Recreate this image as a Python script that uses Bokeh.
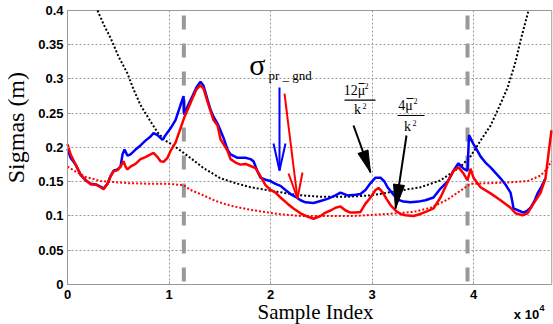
import math
from bokeh.plotting import figure
from bokeh.models import Range1d, FixedTicker
from bokeh.core.properties import value
from bokeh.embed import file_html
from bokeh.resources import INLINE

# ---------------- data ----------------
blue_x = [0, 300, 800, 1300, 1800, 2300, 2800, 3250, 3550, 3940, 4240, 4530, 4930, 5220, 5420, 5620,
          5910, 6210, 6700, 7190, 7680, 8180, 8470, 8870, 9360, 9650, 10150, 10640, 11130, 11430, 11500,
          11920, 12310, 12710, 13100, 13400, 13790, 14090, 14380, 14780, 15070, 15370, 15760, 16060,
          16750, 17530, 18030, 18320, 18720, 19010, 19500, 20000, 20490, 20980, 21470, 21970, 22460,
          22950, 23440, 24230, 24920, 25610, 26400, 26890, 27580, 28370, 28860, 29350, 29850, 30340,
          30830, 31230, 31520, 32010, 32500, 33100, 33790, 34570, 35260, 36050, 36740, 37430, 38020,
          38510, 39010, 39400, 39550, 39990, 40380, 40680, 41170, 41670, 42160, 42650, 43140, 43640,
          43830, 43930, 44420, 44920, 45310, 45610, 46000, 46300, 46690, 47080]
blue_y = [0.198, 0.185, 0.175, 0.160, 0.152, 0.147, 0.146, 0.143, 0.140, 0.147, 0.158, 0.166, 0.168, 0.172, 0.190, 0.197,
          0.188, 0.190, 0.197, 0.203, 0.210, 0.216, 0.221, 0.218, 0.211, 0.218, 0.228, 0.240, 0.262, 0.275, 0.248,
          0.263, 0.275, 0.288, 0.296, 0.290, 0.270, 0.255, 0.245, 0.235, 0.225, 0.214, 0.197, 0.190,
          0.185, 0.185, 0.183, 0.180, 0.165, 0.156, 0.153, 0.151, 0.147, 0.144, 0.138, 0.132, 0.128,
          0.123, 0.120, 0.119, 0.122, 0.125, 0.130, 0.134, 0.130, 0.131, 0.132, 0.138, 0.148, 0.156,
          0.156, 0.150, 0.142, 0.133, 0.124, 0.121, 0.120, 0.121, 0.123, 0.127, 0.140, 0.150, 0.166,
          0.177, 0.169, 0.166, 0.218, 0.205, 0.195, 0.187, 0.178, 0.171, 0.163, 0.155, 0.146, 0.134,
          0.120, 0.111, 0.108, 0.105, 0.108, 0.112, 0.122, 0.133, 0.143, 0.155]

red_x = [0, 300, 800, 1300, 1800, 2300, 2800, 3250, 3550, 3940, 4240, 4530, 4930, 5220, 5520, 5720,
         5910, 6210, 6700, 7190, 7680, 8180, 8470, 8870, 9160, 9460, 9850, 10150, 10640, 11130, 11530,
         11920, 12310, 12710, 13100, 13400, 13790, 14090, 14380, 14780, 15070, 15370, 15760, 16060,
         16550, 17040, 17530, 18030, 18520, 19010, 19500, 20000, 20490, 20980, 21670, 22260, 22950,
         23640, 24230, 24920, 25410, 25910, 26400, 26890, 27390, 27880, 28370, 28860, 29350, 29850,
         30340, 30640, 31030, 31420, 31820, 32310, 32800, 33300, 34080, 34770, 35460, 36050, 36740,
         37430, 38020, 38510, 39010, 39400, 39700, 39990, 40680, 41670, 42650, 43640, 44130, 44820,
         45310, 45900, 46600, 47080, 47380, 47670]
red_y = [0.205, 0.190, 0.175, 0.160, 0.152, 0.146, 0.146, 0.142, 0.139, 0.147, 0.158, 0.165, 0.167, 0.172, 0.180, 0.172,
         0.168, 0.172, 0.176, 0.183, 0.186, 0.190, 0.192, 0.186, 0.180, 0.179, 0.185, 0.195, 0.207, 0.228, 0.245,
         0.258, 0.272, 0.285, 0.291, 0.286, 0.267, 0.253, 0.240, 0.232, 0.212, 0.205, 0.195, 0.183,
         0.178, 0.175, 0.176, 0.173, 0.170, 0.158, 0.145, 0.138, 0.134, 0.127, 0.118, 0.111, 0.104,
         0.099, 0.096, 0.100, 0.105, 0.108, 0.112, 0.114, 0.108, 0.105, 0.105, 0.106, 0.118, 0.127,
         0.138, 0.141, 0.135, 0.125, 0.116, 0.108, 0.103, 0.101, 0.100, 0.103, 0.107, 0.111, 0.127,
         0.149, 0.166, 0.171, 0.162, 0.152, 0.169, 0.156, 0.142, 0.133, 0.123, 0.112, 0.104, 0.101,
         0.104, 0.118, 0.134, 0.155, 0.191, 0.225]

bound12_x = [2955, 3550, 4240, 5020, 5910, 6500, 7190, 8180, 8870, 9650, 10440, 11820, 13400, 15070, 16550,
             18030, 20000, 22460, 24920, 27380, 29850, 32310, 34770, 36740, 38710, 39700, 40680, 41670,
             42360, 43340, 44130, 44620, 45410]
bound12_y = [0.400, 0.380, 0.360, 0.333, 0.308, 0.285, 0.262, 0.238, 0.222, 0.210, 0.203, 0.188, 0.170, 0.155, 0.148,
             0.142, 0.137, 0.131, 0.128, 0.128, 0.130, 0.136, 0.142, 0.152, 0.172, 0.187, 0.210, 0.232,
             0.254, 0.287, 0.325, 0.356, 0.400]

bound4_x = [0, 790, 1770, 2560, 3250, 5910, 8180, 9850, 11430, 12120, 13100, 14580, 16060, 18030, 20690,
            22950, 24920, 28170, 31520, 34080, 35760, 37430, 38710, 39400, 39700, 41670, 43340, 45310,
            46590, 47180, 47670]
bound4_y = [0.172, 0.165, 0.157, 0.154, 0.151, 0.148, 0.147, 0.147, 0.145, 0.138, 0.132, 0.122, 0.115, 0.109, 0.103,
            0.100, 0.100, 0.100, 0.103, 0.106, 0.112, 0.124, 0.137, 0.144, 0.147, 0.148, 0.149, 0.151,
            0.159, 0.168, 0.180]

event_x = [11460, 39400]

x_max = 47700
y_max = 0.4
x_ticks = [0, 10000, 20000, 30000, 40000]
x_tick_labels = ["0", "1", "2", "3", "4"]
y_ticks = [0, 0.05, 0.1, 0.15, 0.2, 0.25, 0.3, 0.35, 0.4]
y_tick_labels = ["0", "0.05", "0.1", "0.15", "0.2", "0.25", "0.3", "0.35", "0.4"]

# ---------------- figure (frame spans the canvas; axes pinned at 0) ----------------
p = figure(width=553, height=324, frame_width=553, frame_height=324,
           min_border_left=0, min_border_right=0, min_border_top=0, min_border_bottom=0,
           output_backend="svg", toolbar_location=None,
           x_range=Range1d(-6600, 47871), y_range=Range1d(-0.0584, 0.4146))
p.outline_line_color = None
p.background_fill_color = "white"
p.border_fill_color = "white"

for ax in (p.xaxis[0], p.yaxis[0]):
    ax.fixed_location = 0
    ax.axis_line_color = "#999999"
    ax.major_tick_line_color = "#999999"
    ax.major_tick_out = 0
    ax.major_tick_in = 3
    ax.minor_tick_line_color = None
    ax.major_label_text_font = "Liberation Sans"
    ax.major_label_text_font_style = "bold"
    ax.major_label_text_font_size = "13px"
    ax.major_label_text_color = "black"

p.xaxis.bounds = (0, x_max)
p.yaxis.bounds = (0, y_max)
p.xaxis.ticker = FixedTicker(ticks=x_ticks)
p.xaxis.major_label_overrides = dict(zip(x_ticks, x_tick_labels))
p.xaxis.major_label_standoff = 6
p.yaxis.ticker = FixedTicker(ticks=y_ticks)
p.yaxis.major_label_overrides = dict(zip(y_ticks, y_tick_labels))
p.yaxis.major_label_standoff = 4

p.xgrid.ticker = FixedTicker(ticks=x_ticks)
p.ygrid.ticker = FixedTicker(ticks=y_ticks)
p.xgrid.cross_bounds = (0, y_max)
p.ygrid.cross_bounds = (0, x_max)
p.grid.grid_line_color = "#999999"
p.grid.grid_line_dash = "2 2"
p.grid.grid_line_width = 1

# box top and right edges
p.line([0, x_max, x_max], [y_max, y_max, 0], line_color="#999999", line_width=1)

# event markers
for ex in event_x:
    p.segment(x0=ex, y0=0.3927, x1=ex, y1=0.0, line_color="#999999", line_width=4, line_dash="14 14")

p.line(bound12_x, bound12_y, line_color="black", line_width=2, line_dash="2 2")
p.line(bound4_x, bound4_y, line_color="#ff0000", line_width=2, line_dash="2 2")
p.line(blue_x, blue_y, line_color="#0000ff", line_width=2.5)
p.line(red_x, red_y, line_color="#ff0000", line_width=2.5)

# ---------------- annotations ----------------
serif = "Liberation Serif"


def txt(x, y, s, size, align="left", font=serif, style="normal", angle=0.0):
    p.text(x=[x], y=[y], text=[s], text_font=value(font), text_font_size=size,
           text_font_style=style, text_baseline="alphabetic", text_align=align,
           text_color="black", angle=angle)


# sigma_pr_gnd
txt(17900, 0.3211, "σ", "30px")
txt(19799, 0.3056, "pr _ gnd", "13px")
# blue arrow
p.line([20882, 20882], [0.2876, 0.1664], line_color="#0000ff", line_width=2)
p.line([20291, 20882, 21473], [0.2058, 0.1664, 0.2058], line_color="#0000ff", line_width=2)
# red arrow
p.line([21375, 22655], [0.2788, 0.1255], line_color="#ff0000", line_width=2)
p.line([21769, 22655, 23148], [0.1620, 0.1255, 0.1635], line_color="#ff0000", line_width=2)

# fraction 12 mu^2 / k^2
txt(28270, 0.2826, "12μ", "14px", align="center")
txt(29255, 0.2900, "2", "8px")
p.line([28664, 29255], [0.2934, 0.2934], line_color="black", line_width=1)
p.line([27285, 30338], [0.2693, 0.2693], line_color="black", line_width=1.2)
txt(28565, 0.2549, "k", "14px", align="center")
txt(29058, 0.2608, "2", "8px")
p.line([28171, 29846], [0.2321, 0.1635], line_color="black", line_width=2)
p.patch([28614, 29846, 29599], [0.1912, 0.1635, 0.1964], fill_color="black", line_color="black")

# fraction 4 mu^2 / k^2
txt(33293, 0.2607, "4μ", "14px", align="center")
txt(34081, 0.2681, "2", "8px")
p.line([33392, 34081], [0.2715, 0.2715], line_color="black", line_width=1)
p.line([32505, 35165], [0.2467, 0.2467], line_color="black", line_width=1.2)
txt(33490, 0.2301, "k", "14px", align="center")
txt(33983, 0.2360, "2", "8px")
p.line([33392, 32308], [0.2175, 0.1109], line_color="black", line_width=2)
p.patch([33195, 32308, 32111], [0.1445, 0.1109, 0.1467], fill_color="black", line_color="black")

# axis titles and multiplier
txt(-5024, 0.229, "Sigmas (m)", "24px", align="center", angle=math.pi / 2)
txt(24428, -0.0395, "Sample Index", "21px", align="center")
txt(45211, -0.0433, "x 10", "13px", align="center", font="Liberation Sans", style="bold")
txt(46492, -0.0350, "4", "9px", font="Liberation Sans", style="bold")

open("out.html", "w").write(file_html(p, INLINE))
